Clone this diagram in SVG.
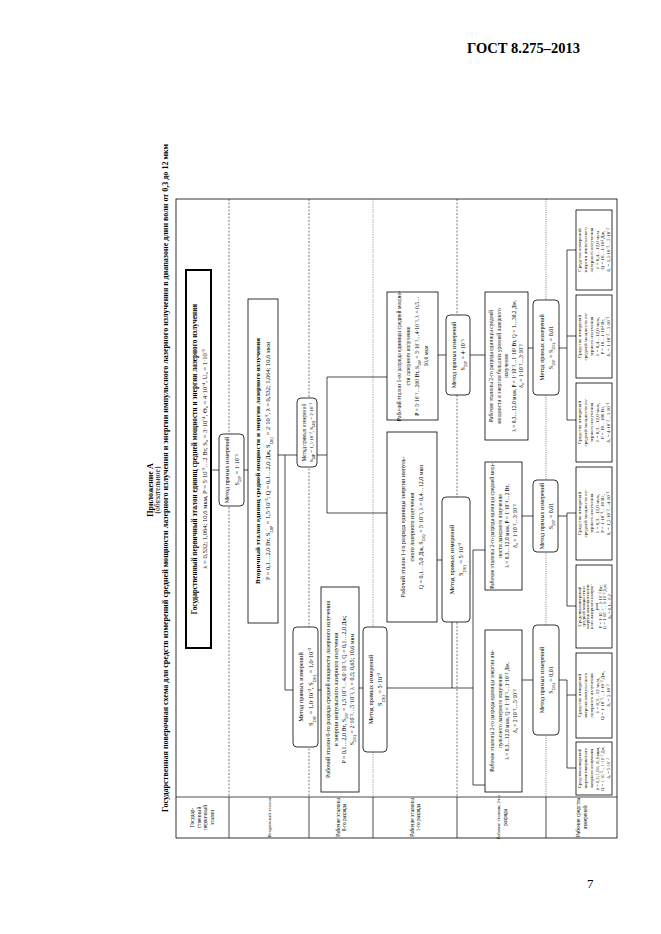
<svg xmlns="http://www.w3.org/2000/svg" width="661" height="934" viewBox="0 0 661 934">
<style>
text{font-family:"Liberation Serif","Times New Roman",serif;fill:#000}
.b{font-weight:bold}
.c{text-anchor:middle}
.bx{fill:#fff;stroke:#000;stroke-width:0.8}
.bt{fill:#fff;stroke:#000;stroke-width:2}
.ln{stroke:#000;stroke-width:0.7;fill:none}
.ds{stroke:#222;stroke-width:0.6;stroke-dasharray:2 1.5;fill:none}
.dg{stroke:#777;stroke-width:0.6;stroke-dasharray:1.5 1;fill:none}
.dt{stroke:#333;stroke-width:0.6;stroke-dasharray:1 1.2;fill:none}
.sub{font-size:65%;baseline-shift:sub}
</style>
<rect width="661" height="934" fill="#fff"/>
<text x="580" y="53" text-anchor="end" class="b" font-size="14.5">ГОСТ 8.275–2013</text>
<text x="587" y="888" font-size="13">7</text>
<g id="title">
<text class="b c" font-size="8" transform="translate(152.6,490) rotate(-90)">Приложение А</text>
<text class="c" font-size="7.5" transform="translate(159.5,490) rotate(-90)">(обязательное)</text>
<text class="b c" font-size="7.5" textLength="668" lengthAdjust="spacingAndGlyphs" transform="translate(167.5,478) rotate(-90)">Государственная поверочная схема для средств измерений средней мощности лазерного излучения и энергии импульсного лазерного излучения в диапазоне длин волн от 0,3 до 12 мкм</text>
</g>
<g id="frame">
<rect x="176" y="199" width="441" height="639" fill="none" stroke="#000" stroke-width="0.8"/>
<line x1="176" y1="797" x2="617" y2="797" class="ln"/>
<path class="ln" d="M229 797V838M309 797V838M373 797V838M457 797V838M546 797V838"/>
<path class="ds" d="M229 199V797M309 199V797M457 199V797"/>
<path class="dg" d="M373 199V797"/>
<path class="dt" d="M546 199V797"/>
</g>
<g id="labels" font-size="5.3">
<g transform="translate(202.5,817.5) rotate(-90)"><text class="c" y="-8.3">Государ-</text><text class="c" y="-1.8">ственный</text><text class="c" y="4.7">первичный</text><text class="c" y="11.2">эталон</text></g>
<g transform="translate(269,817.5) rotate(-90)"><text class="c" y="1.8" font-size="5">Вторичный эталон</text></g>
<g transform="translate(341,817.5) rotate(-90)"><text class="c" y="-1.5">Рабочие эталоны</text><text class="c" y="5">0-го разряда</text></g>
<g transform="translate(415,817.5) rotate(-90)"><text class="c" y="-1.5">Рабочие эталоны</text><text class="c" y="5">1-го разряда</text></g>
<g transform="translate(501.5,817.5) rotate(-90)"><text class="c" y="-1.5" font-size="4.8">Рабочие эталоны 2-го</text><text class="c" y="5">разряда</text></g>
<g transform="translate(581.5,817.5) rotate(-90)"><text class="c" y="-1.5">Рабочие средства</text><text class="c" y="5">измерений</text></g>
</g>
<g id="connectors">
<path class="ln" d="M211 470H219M244 470H248"/>
<path class="ln" d="M278 455H297M285 455V690H293M318 690H321"/>
<path class="ln" d="M317 455H327M327 377V513M327 377H387M327 513H387"/>
<path class="ln" d="M359 688H363M387 688H473M452 622V688M473 550V785M473 550H485M473 785H485"/>
<path class="ln" d="M438 355H446M437 560H442M470 355H485"/>
<path class="ln" d="M528 348H533M522 516H533M522 680H533"/>
<path class="ln" d="M559 348H567M567 250V420M567 250H576M567 336H576M567 420H576"/>
<path class="ln" d="M558 516H567M567 513V606M567 513H576M567 606H576"/>
<path class="ln" d="M559 680H567M567 680V768M567 695H576M567 768H576"/>
</g>
<g id="b1" transform="translate(198.5,459) rotate(-90)">
<rect class="bt" x="-189" y="-12.5" width="378" height="25"/>
<text class="b c" font-size="7.2" y="-2">Государственный первичный эталон единиц средней мощности и энергии лазерного излучения</text>
<text class="c" font-size="6.6" y="8">λ = 0,532; 1,064; 10,6 мкм, P = 5·10⁻³…2 Вт, S₀ = 3·10⁻⁴, Θ₀ = 4·10⁻⁴, U₀ = 1·10⁻³</text>
</g>
<g id="m1" transform="translate(231.5,470) rotate(-90)">
<rect class="bx" x="-36" y="-12.5" width="72" height="25" rx="4"/>
<text class="c" font-size="6" y="-2.3">Метод прямых измерений</text>
<text class="c" font-size="6" y="7">S<tspan class="sub">Σ0P</tspan> = 1·10⁻³</text>
</g>
<g id="b2" transform="translate(263,461) rotate(-90)">
<rect class="bx" x="-162" y="-15" width="324" height="30"/>
<text class="b c" font-size="7" y="-3.5">Вторичный эталон единиц средней мощности и энергии лазерного излучения</text>
<text class="c" font-size="6.4" y="7">P = 0,1…2,0 Вт, S<tspan class="sub">Σ0P</tspan> = 1,5·10⁻³; Q = 0,1…2,0 Дж, S<tspan class="sub">Σ0Q</tspan> = 2·10⁻³, λ = 0,532; 1,064; 10,6 мкм</text>
</g>
<g id="m2b" transform="translate(307,432.5) rotate(-90)">
<rect class="bx" x="-34.5" y="-10" width="69" height="20" rx="4"/>
<text class="c" font-size="5.2" y="-1.5">Метод прямых измерений</text>
<text class="c" font-size="5" y="6">S<tspan class="sub">Σ0P</tspan> = 1,5·10⁻², S<tspan class="sub">Σ0Q</tspan> = 2·10⁻²</text>
</g>
<g id="m2a" transform="translate(305.5,687) rotate(-90)">
<rect class="bx" x="-60" y="-12.5" width="120" height="25" rx="4"/>
<text class="c" font-size="6.3" y="-2.3">Метод прямых измерений</text>
<text class="c" font-size="6.3" y="7">S<tspan class="sub">Σ0P</tspan> = 1,0·10⁻³, S<tspan class="sub">Σ0Q</tspan> = 1,0·10⁻³</text>
</g>
<g id="b3" transform="translate(340,689.5) rotate(-90)">
<rect class="bx" x="-102.5" y="-19" width="205" height="38"/>
<text class="c" font-size="6" y="-10">Рабочий эталон 0-го разряда средней мощности лазерного излучения</text>
<text class="c" font-size="6" y="-2">и энергии импульсного лазерного излучения</text>
<text class="c" font-size="6" y="6">P = 0,1…2,0 Вт, S<tspan class="sub">Σ0P</tspan> = 1,5·10⁻³…4,0·10⁻³, Q = 0,1…2,0 Дж;</text>
<text class="c" font-size="6" y="14">S<tspan class="sub">Σ0Q</tspan> = 2·10⁻³…5·10⁻³, λ = 0,5; 0,65; 10,6 мкм</text>
</g>
<g id="m3" transform="translate(375,689.5) rotate(-90)">
<rect class="bx" x="-62.5" y="-12" width="125" height="24" rx="4"/>
<text class="c" font-size="6.3" y="-2">Метод прямых измерений</text>
<text class="c" font-size="6.3" y="7">S<tspan class="sub">Σ0Q</tspan> = 5·10⁻³</text>
</g>
<g id="r1a" transform="translate(412.5,356) rotate(-90)">
<rect class="bx" x="-64" y="-25.5" width="128" height="51"/>
<text class="c" font-size="5.6" y="-11.5">Рабочий эталон 1-го разряда единицы средней мощно-</text>
<text class="c" font-size="5.6" y="-2.5">сти лазерного излучения</text>
<text class="c" font-size="5.6" y="6.5">P = 5·10⁻³…200 Вт, S<tspan class="sub">Σ0P</tspan> = 3·10⁻³…4·10⁻³, λ = 0,5…</text>
<text class="c" font-size="5.6" y="15.5">10,6 мкм</text>
</g>
<g id="r1b" transform="translate(412,527) rotate(-90)">
<rect class="bx" x="-95" y="-25" width="190" height="50"/>
<text class="c" font-size="6" y="-7">Рабочий эталон 1-го разряда единицы энергии импуль-</text>
<text class="c" font-size="6" y="2">сного лазерного излучения</text>
<text class="c" font-size="6" y="11">Q = 0,1…5,0 Дж, S<tspan class="sub">Σ0Q</tspan> = 5·10⁻³, λ = 0,4…12,0 мкм</text>
</g>
<g id="m5" transform="translate(458,355) rotate(-90)">
<rect class="bx" x="-40" y="-12" width="80" height="24" rx="4"/>
<text class="c" font-size="6" y="-2">Метод прямых измерений</text>
<text class="c" font-size="6" y="7">S<tspan class="sub">Σ0P</tspan> = 4·10⁻³</text>
</g>
<g id="m4" transform="translate(456,559.5) rotate(-90)">
<rect class="bx" x="-62.5" y="-14" width="125" height="28" rx="4"/>
<text class="c" font-size="6.3" y="-2">Метод прямых измерений</text>
<text class="c" font-size="6.3" y="7">S<tspan class="sub">Σ0Q</tspan> = 5·10⁻³</text>
</g>
<g id="r2a" transform="translate(506.5,366) rotate(-90)">
<rect class="bx" x="-74" y="-21.5" width="148" height="43"/>
<text class="c" font-size="5.5" y="-13.2">Рабочие эталоны 2-го разряда единицы средней</text>
<text class="c" font-size="5.5" y="-5.7">мощности и энергии больших уровней лазерного</text>
<text class="c" font-size="5.5" y="1.8">излучения</text>
<text class="c" font-size="5.5" y="9.3">λ = 0,3…12,0 мкм, P = 1·10⁻²…1·10³ Вт, Q = 1…30,2 Дж,</text>
<text class="c" font-size="5.5" y="16.8">δ₀ = 1·10⁻²…3·10⁻²</text>
</g>
<g id="r2b" transform="translate(503.5,526) rotate(-90)">
<rect class="bx" x="-64" y="-18.5" width="128" height="37"/>
<text class="c" font-size="5.5" y="-9.5">Рабочие эталоны 2-го разряда единицы средней мощ-</text>
<text class="c" font-size="5.5" y="-2">ности лазерного излучения</text>
<text class="c" font-size="5.5" y="5.5">λ = 0,3…12,0 мкм, P = 1·10⁻⁴…2 Вт,</text>
<text class="c" font-size="5.5" y="13">δ₀ = 1·10⁻²…3·10⁻²</text>
</g>
<g id="r2c" transform="translate(503.5,711) rotate(-90)">
<rect class="bx" x="-81" y="-18.5" width="162" height="37"/>
<text class="c" font-size="5.5" y="-9.5">Рабочие эталоны 2-го разряда единицы энергии им-</text>
<text class="c" font-size="5.5" y="-2">пульсного лазерного излучения</text>
<text class="c" font-size="5.5" y="5.5">λ = 0,3…12,0 мкм, Q = 1·10⁻⁵…1·10⁻² Дж,</text>
<text class="c" font-size="5.5" y="13">δ₀ = 2·10⁻²…5·10⁻²</text>
</g>
<g id="m6" transform="translate(546,347.5) rotate(-90)">
<rect class="bx" x="-47.5" y="-13" width="95" height="26" rx="4"/>
<text class="c" font-size="6" y="-2">Метод прямых измерений</text>
<text class="c" font-size="6" y="7">S<tspan class="sub">Σ0P</tspan> = S<tspan class="sub">Σ0Q</tspan> = 0,01</text>
</g>
<g id="m7" transform="translate(545.5,516) rotate(-90)">
<rect class="bx" x="-36" y="-12.5" width="72" height="25" rx="4"/>
<text class="c" font-size="6" y="-2">Метод прямых измерений</text>
<text class="c" font-size="6" y="7">S<tspan class="sub">Σ0P</tspan> = 0,01</text>
</g>
<g id="m8" transform="translate(546,680) rotate(-90)">
<rect class="bx" x="-55" y="-13" width="110" height="26" rx="4"/>
<text class="c" font-size="6" y="-2">Метод прямых измерений</text>
<text class="c" font-size="6" y="7">S<tspan class="sub">Σ0Q</tspan> = 0,01</text>
</g>
<g id="w1" transform="translate(594,250) rotate(-90)">
<rect class="bx" x="-40" y="-18" width="80" height="36"/>
<g font-size="5"><text class="c" y="-12.9">Средства измерений</text><text class="c" y="-7.1">энергии импульсного</text><text class="c" y="-1.3">лазерного излучения</text><text class="c" y="4.5">λ = 0,4…12,0 мкм</text><text class="c" y="10.3">Q = 10…1·10³ Дж,</text><text class="c" y="16.1">δ₀ = 1,5·10⁻²…5·10⁻²</text></g>
</g>
<g id="w2" transform="translate(594,336.5) rotate(-90)">
<rect class="bx" x="-41.5" y="-18" width="83" height="36"/>
<g font-size="5"><text class="c" y="-12.9">Средства измерений</text><text class="c" y="-7.1">средней мощности ла-</text><text class="c" y="-1.3">зерного излучения</text><text class="c" y="4.5">λ = 0,4…12,0 мкм,</text><text class="c" y="10.3">P = 10…1·10³ Вт,</text><text class="c" y="16.1">δ₀ = 1·10⁻²…5·10⁻²</text></g>
</g>
<g id="w3" transform="translate(594,422.5) rotate(-90)">
<rect class="bx" x="-39.5" y="-18" width="79" height="36"/>
<g font-size="5"><text class="c" y="-12.9">Средства измерений</text><text class="c" y="-7.1">средней мощности ла-</text><text class="c" y="-1.3">зерного излучения</text><text class="c" y="4.5">λ = 0,3…12,0 мкм,</text><text class="c" y="10.3">P = 10…100 Вт,</text><text class="c" y="16.1">δ₀ = 4·10⁻²…5·10⁻²</text></g>
</g>
<g id="w4" transform="translate(594,513.5) rotate(-90)">
<rect class="bx" x="-46.5" y="-18" width="93" height="36"/>
<g font-size="5"><text class="c" y="-12.9">Средства измерений</text><text class="c" y="-7.1">средней мощности ла-</text><text class="c" y="-1.3">зерного излучения</text><text class="c" y="4.5">λ = 0,3…12,0 мкм,</text><text class="c" y="10.3">P = 1·10⁻⁴…10 Вт,</text><text class="c" y="16.1">δ₀ = 1,5·10⁻²…4·10⁻²</text></g>
</g>
<g id="w5" transform="translate(594,606.5) rotate(-90)">
<rect class="bx" x="-41.5" y="-18" width="83" height="36"/>
<g font-size="4.6"><text class="c" y="-13.5">Средства измерений</text><text class="c" y="-9.2">средней мощности и</text><text class="c" y="-4.9">энергии малоинтенсив-</text><text class="c" y="-0.6">ного лазерного излуче-</text><text class="c" y="3.7">ния</text><text class="c" y="8">P = 1·10⁻⁷…1·10⁻³ Вт;</text><text class="c" y="12.3">Q = 1·10⁻⁷…1·10⁻³ Дж;</text><text class="c" y="16.6">δ₀ = 0,1…0,2</text></g>
</g>
<g id="w6" transform="translate(594,695.5) rotate(-90)">
<rect class="bx" x="-42.5" y="-18" width="85" height="36"/>
<g font-size="5"><text class="c" y="-12.9">Средства измерений</text><text class="c" y="-7.1">энергии импульсного</text><text class="c" y="-1.3">лазерного излучения</text><text class="c" y="4.5">λ = 0,3…12 мкм,</text><text class="c" y="10.3">Q = 1·10⁻⁵…1·10⁻² Дж,</text><text class="c" y="16.1">δ₀ = 5·10⁻²</text></g>
</g>
<g id="w7" transform="translate(594,768.5) rotate(-90)">
<rect class="bx" x="-26.5" y="-18" width="53" height="36"/>
<g font-size="4.5"><text class="c" y="-12.9">Средства измерений</text><text class="c" y="-7.1">энергии импульсного</text><text class="c" y="-1.3">лазерного излучения</text><text class="c" y="4.5">λ = 0,3; 1,06; 10,6 мкм,</text><text class="c" y="10.3">Q = 1·10⁻⁵…1·10⁻² Дж,</text><text class="c" y="16.1">δ₀ = 5·10⁻²</text></g>
</g>
</svg>
